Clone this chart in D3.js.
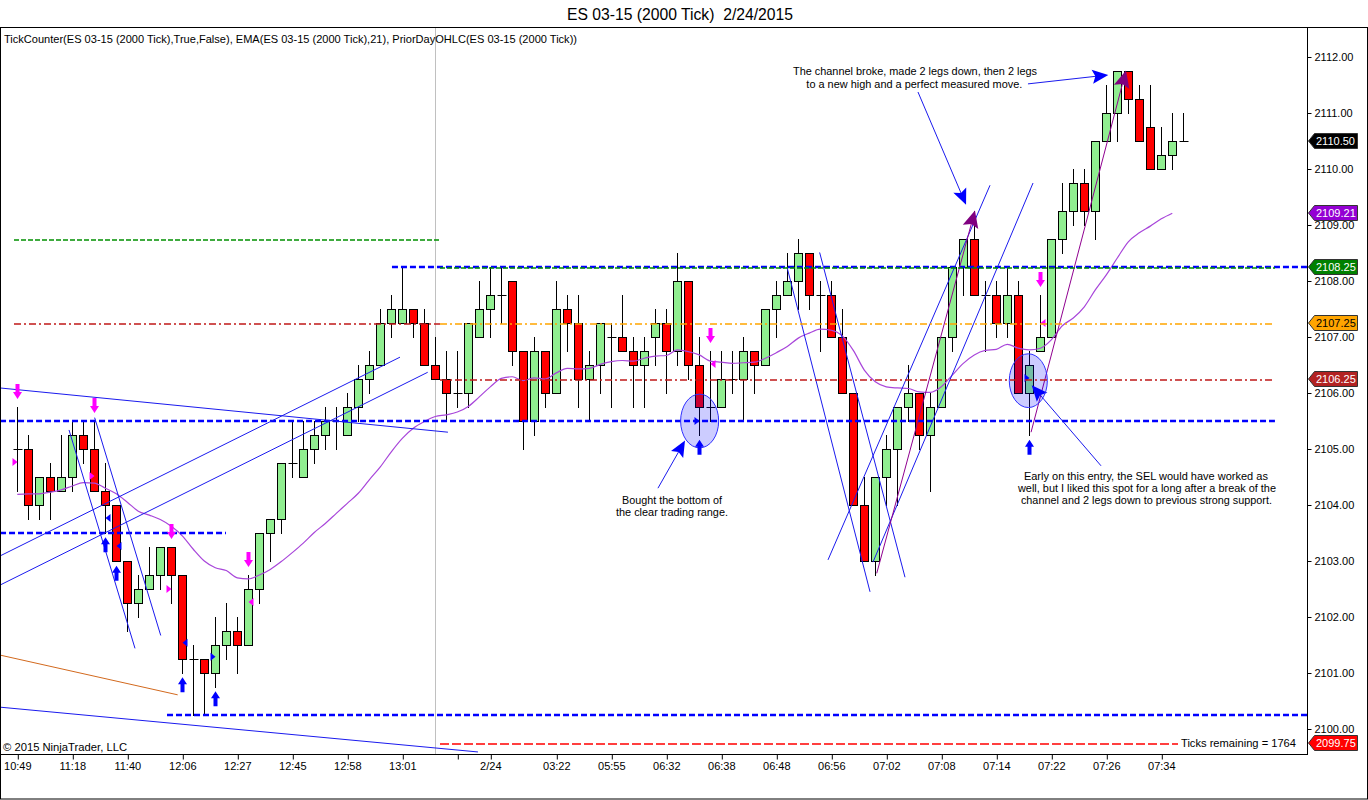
<!DOCTYPE html>
<html><head><meta charset="utf-8">
<script src="https://cdn.jsdelivr.net/npm/d3@7"></script>
<style>
body{margin:0;background:#fff;}
svg{display:block;font-family:"Liberation Sans",Arial,sans-serif;}
</style>
</head><body>
<svg id="c" width="1368" height="800"></svg>
<script>
// ---------------- DATA ----------------
const chartTitle = "ES 03-15 (2000 Tick)  2/24/2015";
const indicatorLabel = "TickCounter(ES 03-15 (2000 Tick),True,False), EMA(ES 03-15 (2000 Tick),21), PriorDayOHLC(ES 03-15 (2000 Tick))";

const timeTickBars = [0,5,10,15,20,25,30,35,40,43,49,54,59,64,69,74,79,84,89,94,99,104];
const timeTickLabels = ["10:49","11:18","11:40","12:06","12:27","12:45","12:58","13:01","","2/24","03:22","05:55","06:32","06:38","06:48","06:56","07:02","07:08","07:14","07:22","07:26","07:34"];
const priceTicks = [2100,2101,2102,2103,2104,2105,2106,2107,2108,2109,2110,2111,2112];

const opens = [2105.0,2105.0,2104.0,2104.5,2104.25,2104.5,2105.25,2105.0,2104.25,2104.0,
 2103.0,2102.25,2102.5,2102.75,2103.25,2102.75,2101.25,2101.25,2101.0,2101.5,
 2101.75,2101.5,2102.5,2103.5,2103.75,2104.75,2104.5,2105.0,2105.25,2105.5,
 2105.25,2105.75,2106.25,2106.5,2107.25,2107.25,2107.5,2107.25,2106.5,2106.25,
 2106.0,2106.0,2107.0,2107.5,2107.75,2108.0,2106.75,2105.5,2106.75,2106.0,
 2107.5,2107.25,2106.25,2106.5,2107.0,2107.0,2106.75,2106.5,2107.0,2107.25,
 2106.75,2108.0,2106.5,2105.75,2105.75,2106.25,2106.25,2106.75,2106.5,2107.5,
 2107.75,2108.0,2108.5,2107.75,2107.75,2107.0,2106.0,2104.0,2103.0,2104.5,
 2105.0,2105.75,2106.0,2105.25,2105.75,2107.0,2108.25,2108.75,2107.75,2107.75,
 2107.25,2107.75,2106.0,2106.75,2107.0,2108.75,2109.25,2109.75,2109.25,2110.5,
 2111.0,2111.75,2111.25,2110.75,2110.0,2110.25,2110.5];
const highs = [2105.75,2105.25,2104.5,2104.75,2105.25,2105.5,2105.5,2105.5,2104.75,2104.0,
 2103.0,2102.75,2103.25,2103.25,2103.25,2102.75,2101.5,2101.25,2102.0,2102.25,
 2102.0,2102.75,2103.5,2103.75,2104.75,2105.5,2105.5,2105.5,2105.75,2105.75,
 2106.0,2106.5,2106.75,2107.5,2107.75,2108.25,2107.5,2107.5,2107.0,2106.75,
 2106.75,2107.25,2108.0,2108.25,2108.25,2108.0,2106.75,2107.0,2106.75,2108.0,
 2107.75,2107.75,2106.75,2107.25,2107.25,2107.75,2107.0,2107.0,2107.5,2107.5,
 2108.5,2108.0,2107.0,2106.75,2106.75,2106.75,2107.0,2106.75,2107.5,2108.0,
 2108.5,2108.75,2108.5,2108.0,2108.0,2107.5,2106.0,2104.5,2104.5,2105.25,
 2105.75,2106.5,2106.0,2106.0,2107.0,2108.25,2108.75,2109.25,2108.0,2108.0,
 2108.25,2108.0,2106.75,2107.75,2108.75,2109.75,2110.0,2110.0,2110.5,2111.5,
 2111.75,2111.75,2111.5,2111.5,2110.75,2111.0,2111.0];
const lows = [2104.25,2103.75,2103.75,2103.75,2104.25,2104.25,2104.75,2104.25,2103.5,2103.0,
 2101.75,2102.0,2102.5,2102.5,2102.25,2101.0,2100.25,2100.25,2100.75,2101.25,
 2101.0,2101.5,2102.25,2103.0,2103.5,2104.5,2104.5,2104.75,2105.0,2105.0,
 2105.25,2105.5,2106.0,2106.5,2107.0,2107.25,2107.0,2106.5,2106.25,2105.5,
 2105.75,2105.75,2107.0,2107.0,2107.25,2106.5,2105.0,2105.25,2105.75,2106.0,
 2106.75,2105.75,2105.5,2106.0,2105.75,2106.75,2105.75,2105.75,2106.5,2106.0,
 2106.5,2106.25,2105.25,2105.5,2105.75,2106.0,2105.5,2106.0,2106.5,2107.0,
 2107.75,2107.5,2107.5,2106.75,2107.0,2106.0,2104.0,2103.0,2102.75,2104.0,
 2104.0,2105.5,2105.0,2104.25,2105.75,2106.75,2107.75,2107.75,2106.75,2107.0,
 2107.0,2106.0,2105.25,2106.75,2107.0,2108.5,2109.0,2109.0,2108.75,2110.5,
 2110.5,2111.0,2110.5,2110.0,2110.0,2110.0,2110.5];
const closes = [2105.0,2104.0,2104.5,2104.25,2104.5,2105.25,2105.0,2104.25,2104.0,2103.0,
 2102.25,2102.5,2102.75,2103.25,2102.75,2101.25,2101.25,2101.0,2101.5,2101.75,
 2101.5,2102.5,2103.5,2103.75,2104.75,2104.75,2105.0,2105.25,2105.5,2105.5,
 2105.75,2106.25,2106.5,2107.25,2107.5,2107.5,2107.25,2106.5,2106.25,2106.0,
 2106.0,2107.25,2107.5,2107.75,2107.75,2106.75,2105.5,2106.75,2106.0,2107.5,
 2107.25,2106.25,2106.5,2107.25,2107.0,2106.75,2106.5,2106.75,2107.25,2106.75,
 2108.0,2106.5,2105.75,2105.75,2106.25,2106.25,2106.75,2106.5,2107.5,2107.75,
 2108.0,2108.5,2107.75,2107.75,2107.0,2106.0,2104.0,2103.0,2104.5,2105.0,
 2105.75,2106.0,2105.25,2105.75,2107.0,2108.25,2108.75,2107.75,2107.75,2107.25,
 2107.75,2106.0,2106.5,2107.0,2108.75,2109.25,2109.75,2109.25,2110.5,2111.0,
 2111.75,2111.25,2110.5,2110.0,2110.25,2110.5,2110.5];

// EMA(21)
const emaValues = [2104.19,2104.20,2104.20,2104.23,2104.27,2104.34,2104.40,2104.39,2104.30,2104.20,
 2104.05,2103.89,2103.82,2103.74,2103.62,2103.45,2103.21,2103.00,2102.88,2102.83,
 2102.70,2102.68,2102.75,2102.85,2102.99,2103.15,2103.32,2103.51,2103.67,2103.85,
 2104.03,2104.21,2104.45,2104.68,2104.95,2105.19,2105.37,2105.49,2105.58,2105.61,
 2105.66,2105.76,2105.93,2106.11,2106.26,2106.29,2106.22,2106.27,2106.25,2106.36,
 2106.44,2106.43,2106.44,2106.51,2106.56,2106.58,2106.57,2106.62,2106.66,2106.67,
 2106.77,2106.74,2106.68,2106.57,2106.55,2106.53,2106.54,2106.55,2106.62,2106.72,
 2106.83,2106.98,2107.07,2107.14,2107.12,2107.02,2106.76,2106.41,2106.20,2106.11,
 2106.09,2106.08,2106.02,2106.01,2106.11,2106.32,2106.53,2106.68,2106.76,2106.78,
 2106.87,2106.80,2106.77,2106.80,2106.95,2107.20,2107.34,2107.54,2107.84,2108.11,
 2108.41,2108.70,2108.86,2108.98,2109.11,2109.21];

// right-axis value markers
const markerValues = [2110.50, 2109.21, 2108.25, 2107.25, 2106.25, 2099.75];

// horizontal drawn levels (blue dashed): [price, fromBar, toBar]
const blueLevels = [[2108.25,34.06,117.25],[2105.5,-1.57,114.33],[2103.5,-1.57,18.97],[2100.25,13.61,117.25]];
// prior day OHLC levels: [price, fromBar, toBar, kind]
const priorDayLevels = [[2108.75,-0.3,38.43,"high"],[2107.25,-0.3,38.43,"close"],
 [2108.25,38.43,114.33,"high"],[2107.25,38.43,114.33,"open"],[2106.25,38.43,114.33,"close"],[2099.75,38.43,105.5,"low"]];

// blue trend lines: [bar1, price1, bar2, price2]
const trendLines = [[-1.57,2106.09,39.15,2105.30],[-1.57,2100.39,41.88,2099.59],
 [-1.57,2103.09,34.79,2106.64],[-1.57,2102.57,37.31,2106.37],
 [4.70,2105.34,10.70,2101.44],[7.03,2105.56,13.04,2101.67],
 [69.97,2108.25,77.52,2102.45],[72.94,2108.51,80.70,2102.71],
 [73.70,2103.02,88.43,2109.71],[77.79,2102.98,92.34,2109.75]];
const orangeLines = [[-1.57,2101.32,14.58,2100.61]];
const purpleArrows = [[78.13,2102.78,87.06,2109.26],[92.16,2105.30,100.79,2111.76]];
const blueArrows = [[81.88,2111.375,86.25,2109.36],[91.88,2111.52,99.18,2111.68],
 [58.24,2104.30,60.70,2105.15],[98.52,2104.70,92.22,2106.14]];
// ellipses: [bar, price, radiusBars, radiusPoints]
const ellipses = [[62.03,2105.50,1.73,0.48],[91.91,2106.22,1.73,0.48]];

// signal markers
const downArrows = [[0,2106.02],[7,2105.77],[14,2103.52],[21,2103.02],[63,2107.02],[93,2108.02]];
const upArrows = [[8,2103.30],[9,2102.79],[15,2100.80],[18,2100.55],[62,2105.04],[92,2105.04]];
const smallTriangles = [[0,2104.77,"R","m"],[7,2104.52,"R","m"],[8,2103.77,"L","b"],[9,2103.27,"L","b"],
 [14,2102.5,"R","m"],[15,2101.54,"L","b"],[18,2101.29,"R","b"],[21,2102.27,"L","m"],
 [62,2105.5,"R","b"],[63,2106.52,"L","m"],[92,2106.27,"R","b"],[93,2107.25,"L","m"]];

// annotation texts: [text, bar, price]
const notes = [
 ["The channel broke, made 2 legs down, then 2 legs",81.61,2111.74],
 ["to a new high and a perfect measured move.",81.55,2111.52],
 ["Bought the bottom of",59.52,2104.09],
 ["the clear trading range.",59.52,2103.87],
 ["Early on this entry, the SEL would have worked as",102.6,2104.52],
 ["well, but I liked this spot for a long after a break of the",102.7,2104.30],
 ["channel and 2 legs down to previous strong support.",102.65,2104.09]
];
const sessionBreakBar = 38;
const ticksRemaining = "Ticks remaining = 1764";
const copyright = "\u00A9 2015 NinjaTrader, LLC";

// ---------------- STYLE / LAYOUT ----------------
const W = 1368, H = 800;
const plotTop = 27, plotBottom = 754, plotRight = 1307;
const noteWidths = [244,216,100,112,244,258,251];
const markerStyle = {"2110.5":["#000000","#ffffff"],"2109.21":["#9400D3","#ffffff"],"2108.25":["#008000","#ffffff"],
 "2107.25":["#FFA500","#000000"],"2106.25":["#B22222","#ffffff"],"2099.75":["#FF0000","#ffffff"]};
const priorColor = {high:"#009000",close:"#C01818",open:"#FFA500",low:"#FF0000"};
const priorDash = {high:"5,2",close:"7,3,2,3",open:"7,3,2,3",low:"9,3"};

const svg = d3.select("#c");
const x = d3.scaleLinear().domain([0,106]).range([17.3,1183.3]);
const y = d3.scaleLinear().domain([2100,2112]).range([729,57]);
const snap = v => Math.round(v)+0.5;

svg.append("rect").attr("width",W).attr("height",H).attr("fill","#fff");

svg.append("clipPath").attr("id","plotclip").append("rect")
  .attr("x",0).attr("y",plotTop).attr("width",plotRight).attr("height",plotBottom-plotTop);
const plot = svg.append("g").attr("clip-path","url(#plotclip)");

// session break
plot.append("line").attr("x1",snap(x(sessionBreakBar))).attr("x2",snap(x(sessionBreakBar)))
  .attr("y1",plotTop).attr("y2",plotBottom).style("stroke","#c0c0c0").style("stroke-width",1);

// prior-day levels
const pdg = svg.append("g");
pdg.selectAll("line").data(priorDayLevels).join("line")
  .attr("x1",d=>Math.round(x(d[1]))).attr("x2",d=>Math.round(x(d[2])))
  .attr("y1",d=>Math.round(y(d[0]))+0.9).attr("y2",d=>Math.round(y(d[0]))+0.9)
  .style("stroke",d=>priorColor[d[3]]).style("stroke-dasharray",d=>priorDash[d[3]]).style("stroke-width",1.5);

// candles
const bars = d3.range(opens.length).map(i=>({i,o:opens[i],h:highs[i],l:lows[i],c:closes[i]}));
const cg = plot.append("g");
cg.selectAll("line.wick").data(bars).join("line").attr("class","wick")
  .attr("x1",d=>snap(x(d.i))).attr("x2",d=>snap(x(d.i)))
  .attr("y1",d=>Math.round(y(d.h))).attr("y2",d=>Math.round(y(d.l))+1)
  .style("stroke","#000").style("stroke-width",1);
cg.selectAll("rect.body").data(bars.filter(d=>d.o!==d.c)).join("rect").attr("class","body")
  .attr("x",d=>snap(x(d.i))-4).attr("width",8)
  .attr("y",d=>snap(y(Math.max(d.o,d.c))))
  .attr("height",d=>Math.round(y(Math.min(d.o,d.c)))-Math.round(y(Math.max(d.o,d.c))))
  .style("fill",d=>d.c>d.o?"#90EE90":"#FF0000").style("stroke","#000").style("stroke-width",1);
cg.selectAll("line.doji").data(bars.filter(d=>d.o===d.c)).join("line").attr("class","doji")
  .attr("x1",d=>snap(x(d.i))-4).attr("x2",d=>snap(x(d.i))+5)
  .attr("y1",d=>snap(y(d.o))).attr("y2",d=>snap(y(d.o)))
  .style("stroke","#000").style("stroke-width",1);

// EMA
plot.append("path").datum(emaValues)
  .attr("d",d3.line().x((v,i)=>x(i)).y(v=>y(v)).curve(d3.curveMonotoneX))
  .style("fill","none").style("stroke","#A846DA").style("stroke-width",1.2);

// blue levels
plot.append("g").selectAll("line").data(blueLevels).join("line")
  .attr("x1",d=>x(d[1])).attr("x2",d=>x(d[2])).attr("y1",d=>y(d[0])).attr("y2",d=>y(d[0]))
  .style("stroke","#0000FF").style("stroke-width",2.6).style("stroke-dasharray","6,3");

// trend lines
const seg = (data, color, w) => plot.append("g").selectAll("line").data(data).join("line")
  .attr("x1",d=>x(d[0])).attr("y1",d=>y(d[1])).attr("x2",d=>x(d[2])).attr("y2",d=>y(d[3]))
  .style("stroke",color).style("stroke-width",w);
seg(trendLines, "#1a1aee", 1);
seg(orangeLines, "#D2691E", 1);

function headPts(d, len, wid, back){
  const x1=x(d[0]),y1=y(d[1]),x2=x(d[2]),y2=y(d[3]);
  const dx=x2-x1, dy=y2-y1, L=Math.hypot(dx,dy), ux=dx/L, uy=dy/L, nx=-uy, ny=ux;
  const bx=x2-ux*len, by=y2-uy*len;
  return [[x2,y2],[bx+nx*wid/2,by+ny*wid/2],[bx+ux*back,by+uy*back],[bx-nx*wid/2,by-ny*wid/2]].map(p=>p.join(",")).join(" ");
}
function shortEnd(d, k){
  const x1=x(d[0]),y1=y(d[1]),x2=x(d[2]),y2=y(d[3]);
  const L=Math.hypot(x2-x1,y2-y1);
  return [x1,y1,x2-(x2-x1)/L*k,y2-(y2-y1)/L*k];
}
function arrows(data, lineColor, headColor, len, wid){
  const ag = plot.append("g");
  ag.selectAll("line").data(data).join("line")
    .each(function(d){const s=shortEnd(d,8);d3.select(this).attr("x1",s[0]).attr("y1",s[1]).attr("x2",s[2]).attr("y2",s[3]);})
    .style("stroke",lineColor).style("stroke-width",1);
  ag.selectAll("polygon").data(data).join("polygon")
    .attr("points",d=>headPts(d,len,wid,3)).style("fill",headColor);
}
arrows(purpleArrows, "#900090", "#800080", 17, 16);
arrows(blueArrows, "#1a1aee", "#0000FF", 16, 14);

// ellipses
plot.append("g").selectAll("ellipse").data(ellipses).join("ellipse")
  .attr("cx",d=>x(d[0])).attr("cy",d=>y(d[1]))
  .attr("rx",d=>x(d[2])-x(0)).attr("ry",d=>y(2100)-y(2100+d[3]))
  .style("fill","rgba(0,0,255,0.2)").style("stroke","#3030ff").style("stroke-width",1);

// signal arrows
plot.append("g").selectAll("path").data(downArrows).join("path")
  .attr("transform",d=>`translate(${snap(x(d[0]))},${y(d[1])})`)
  .attr("d","M-2,-8 L2,-8 L2,0 L4.5,0 L0,7 L-4.5,0 L-2,0 Z").style("fill","#FF00FF");
plot.append("g").selectAll("path").data(upArrows).join("path")
  .attr("transform",d=>`translate(${snap(x(d[0]))},${y(d[1])})`)
  .attr("d","M-2,8 L2,8 L2,0 L4.5,0 L0,-7 L-4.5,0 L-2,0 Z").style("fill","#0000FF");
plot.append("g").selectAll("path").data(smallTriangles).join("path")
  .attr("transform",d=>`translate(${snap(x(d[0]))},${y(d[1])})`)
  .attr("d",d=>d[2]==="R"?"M-5,-4 L0,0 L-5,4 Z":"M5,-4 L0,0 L5,4 Z")
  .style("fill",d=>d[3]==="m"?"#FF00FF":"#0000FF");

// notes
plot.append("g").selectAll("text").data(notes).join("text")
  .attr("x",d=>x(d[1])).attr("y",d=>y(d[2])).attr("dy","0.35em")
  .attr("text-anchor","middle").attr("font-size",11).style("fill","#000")
  .attr("textLength",(d,i)=>noteWidths[i]).attr("lengthAdjust","spacingAndGlyphs")
  .text(d=>d[0]);

plot.append("text").attr("x",1296).attr("y",747).attr("text-anchor","end").attr("font-size",11)
  .attr("textLength",115).attr("lengthAdjust","spacingAndGlyphs").text(ticksRemaining);
svg.append("text").attr("x",3).attr("y",751).attr("font-size",11)
  .attr("textLength",124).attr("lengthAdjust","spacingAndGlyphs").text(copyright);

svg.append("text").attr("x",4).attr("y",43).attr("font-size",11)
  .attr("textLength",573).attr("lengthAdjust","spacingAndGlyphs").text(indicatorLabel);
svg.append("text").attr("x",680).attr("y",20).attr("text-anchor","middle").attr("font-size",16)
  .style("white-space","pre").attr("textLength",226).attr("lengthAdjust","spacingAndGlyphs").text(chartTitle);

// frame
svg.append("rect").attr("x",0.5).attr("y",plotTop+0.5).attr("width",W-1).attr("height",H-plotTop-1.5)
  .style("fill","none").style("stroke","#000");
svg.append("line").attr("x1",0).attr("x2",plotRight+0.5).attr("y1",plotBottom+0.5).attr("y2",plotBottom+0.5).style("stroke","#000");
svg.append("line").attr("x1",plotRight+0.5).attr("x2",plotRight+0.5).attr("y1",plotTop).attr("y2",plotBottom+1).style("stroke","#000");

// right price axis
const ay = svg.append("g").attr("transform",`translate(${plotRight+0.5},0)`)
  .call(d3.axisRight(y).tickValues(priceTicks).tickFormat(d3.format(".2f")).tickSize(4).tickPadding(3));
ay.select(".domain").remove();
ay.selectAll("text").attr("font-size",11).attr("font-family","Liberation Sans, Arial, sans-serif").style("fill","#000");
ay.selectAll("line").style("stroke","#000");

// axis value markers
const mk = svg.append("g").selectAll("g").data(markerValues).join("g")
  .attr("transform",d=>`translate(${plotRight+1},${Math.round(y(d))})`);
mk.append("path").attr("d","M0.5,0 L6.5,-7.5 L49.5,-7.5 L49.5,7.5 L6.5,7.5 Z")
  .style("fill",d=>markerStyle[String(d)][0]).style("stroke","#333").style("stroke-width",1);
mk.append("text").attr("x",8).attr("dy","0.36em").attr("font-size",11)
  .style("fill",d=>markerStyle[String(d)][1]).text(d=>d.toFixed(2));

// bottom time axis
const ax = svg.append("g").attr("transform",`translate(0,${plotBottom+0.5})`)
  .call(d3.axisBottom(x).tickValues(timeTickBars).tickFormat((d,i)=>timeTickLabels[i]).tickSize(5).tickPadding(3));
ax.select(".domain").remove();
ax.selectAll("text").attr("font-size",11).attr("font-family","Liberation Sans, Arial, sans-serif").style("fill","#000");
ax.selectAll("line").style("stroke","#000").attr("transform","translate(0.5,0)");
</script>
</body></html>
